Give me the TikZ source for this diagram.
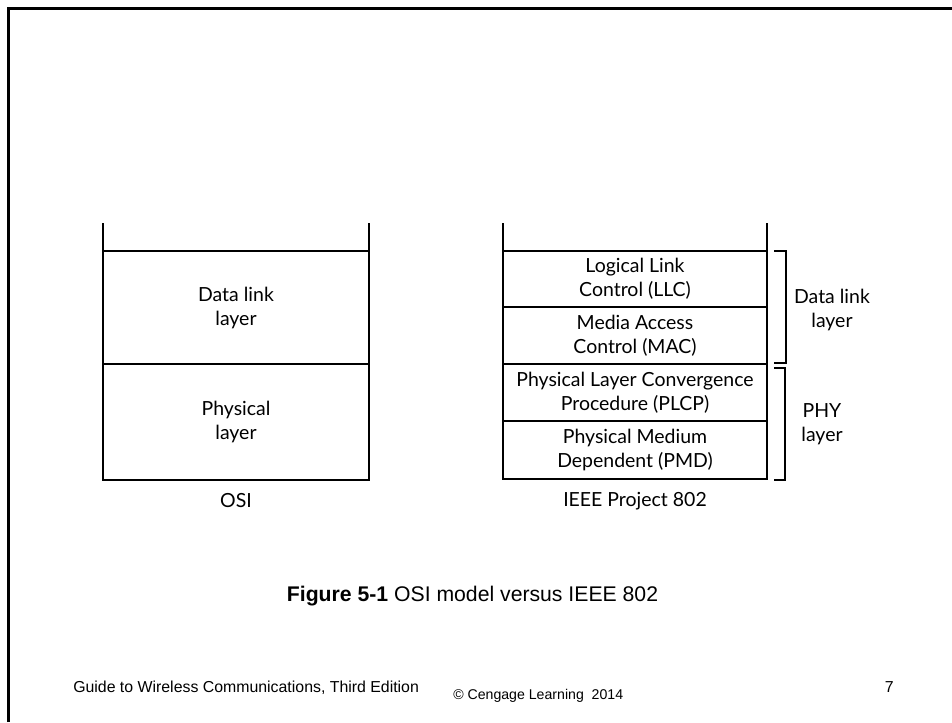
\documentclass[tikz,border=0pt]{standalone}
\usepackage{fontspec}
\setmainfont{Liberation Sans}
\newfontfamily\figfont{Lato}
\begin{document}
\begin{tikzpicture}[x=0.75pt,y=-0.75pt,
  figtext/.style={font=\figfont\fontsize{14.6}{18}\selectfont},
  cell/.style={draw,line width=1.5pt,inner sep=0pt,outer sep=0pt,align=center,figtext},
  lbl/.style={inner sep=0pt,align=center,figtext},
  stackline/.style={line width=1.5pt},
  brace/.style={line width=1.5pt},
  frame/.style={line width=2pt}]
\useasboundingbox (0,0) rectangle (952,722);
% slide frame
\draw[frame] (8.5,722) -- (8.5,8.5) -- (952,8.5);

% OSI stack
\node[cell,minimum width=266*0.75pt,minimum height=113*0.75pt] (osidl) at (236,307.5) {Data link\\layer};
\node[cell,minimum width=266*0.75pt,minimum height=116*0.75pt] (osiph) at (236,422) {Physical\\layer};
\coordinate (osiTL) at (103,223);
\coordinate (osiTR) at (369,223);
\draw[stackline] (osiTL) -- (osidl.north west);
\draw[stackline] (osiTR) -- (osidl.north east);
\node[lbl] (osi) at (236,501) {OSI};

% IEEE 802 stack
\node[cell,minimum width=264*0.75pt,minimum height=56*0.75pt] (llc) at (635,279) {Logical Link\\Control (LLC)};
\node[cell,minimum width=264*0.75pt,minimum height=57*0.75pt] (mac) at (635,335.5) {Media Access\\Control (MAC)};
\node[cell,minimum width=264*0.75pt,minimum height=57*0.75pt] (plcp) at (635,392.5) {Physical Layer Convergence\\Procedure (PLCP)};
\node[cell,minimum width=264*0.75pt,minimum height=58*0.75pt] (pmd) at (635,450) {Physical Medium\\Dependent (PMD)};
\coordinate (ieeeTL) at (503,223);
\coordinate (ieeeTR) at (767,223);
\draw[stackline] (ieeeTL) -- (llc.north west);
\draw[stackline] (ieeeTR) -- (llc.north east);
\node[lbl] (ieee) at (635,501) {IEEE Project 802};

% brackets grouping the sublayers
\coordinate (b1a) at (774,251);
\coordinate (b1b) at (774,363);
\coordinate (b2a) at (774,368);
\coordinate (b2b) at (774,480);
\draw[brace] (b1a) -- ++(12,0) |- (b1b);
\draw[brace] (b2a) -- ++(11,0) |- (b2b);
\node[lbl] (dll) at (832,310) {Data link\\layer};
\node[lbl] (phy) at (822,424) {PHY\\layer};

% caption
\node[inner sep=0pt,font=\fontsize{15.9}{19}\selectfont] (cap) at (472.5,596)
  {\textbf{Figure 5-1} OSI model versus IEEE 802};

% footer
\node[anchor=base west,inner sep=0pt,font=\fontsize{11.9}{14}\selectfont] (book) at (73,692)
  {Guide to Wireless Communications, Third Edition};
\node[anchor=base west,inner sep=0pt,font=\fontsize{10.6}{12}\selectfont] (copy) at (453,699)
  {\textcopyright\ Cengage Learning\ \ 2014};
\node[anchor=base east,inner sep=0pt,font=\fontsize{11.9}{14}\selectfont] (page) at (894,692) {7};
\end{tikzpicture}
\end{document}
